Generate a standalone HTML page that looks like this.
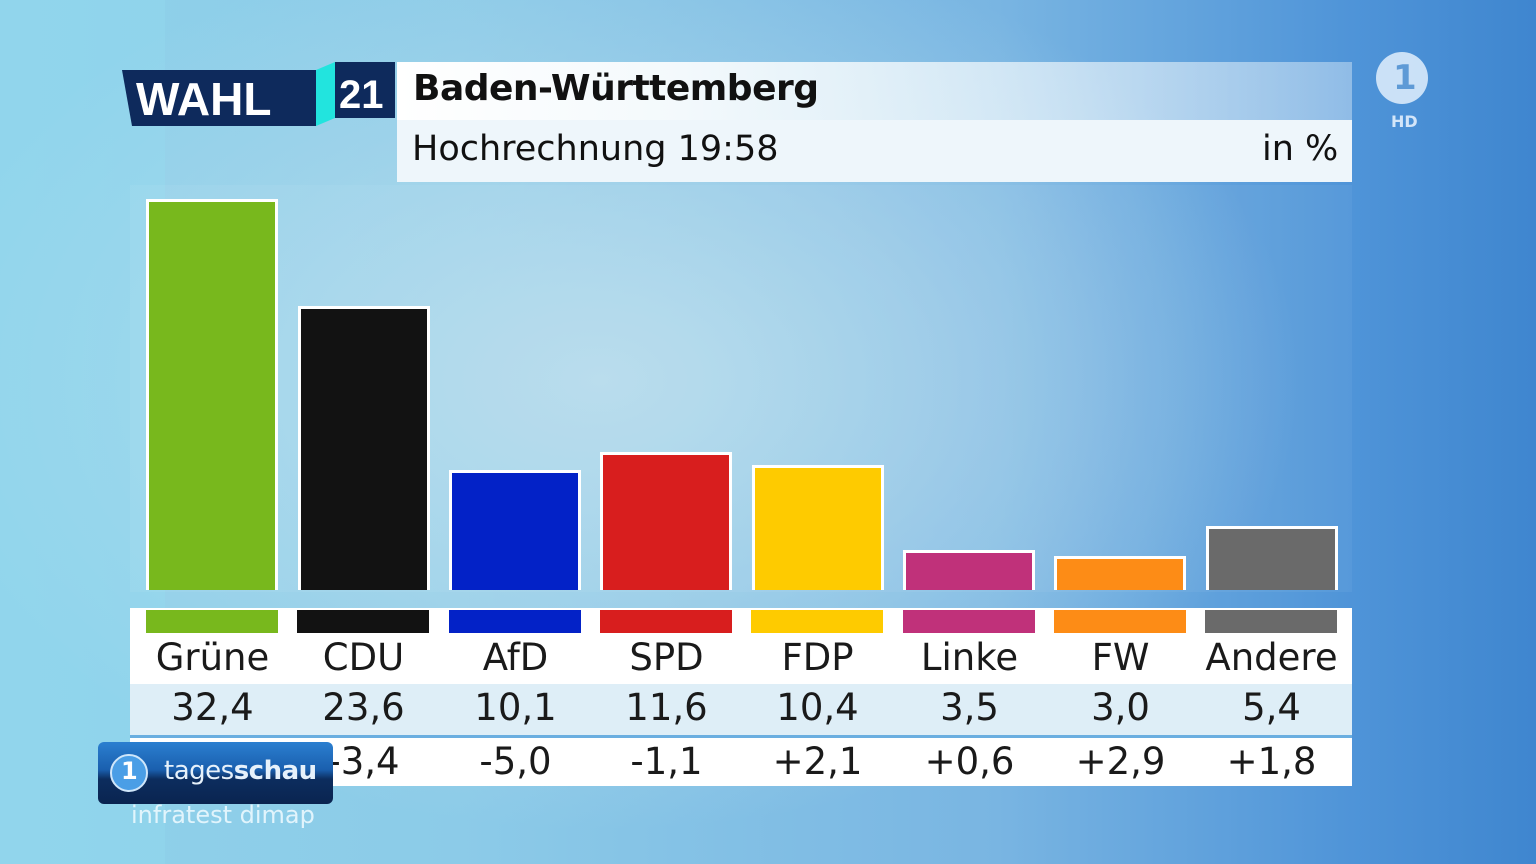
<!DOCTYPE html>
<html><head><meta charset="utf-8"><style>
body{margin:0;width:1536px;height:864px;overflow:hidden;position:relative;font-family:"DejaVu Sans","Liberation Sans",sans-serif;
background:radial-gradient(ellipse 700px 450px at 600px 380px,#b7dcec 0%,rgba(183,220,236,0) 100%),linear-gradient(90deg,#8fd2ea 0%,#8ccbe8 30%,#79b5e2 65%,#4f94d8 88%,#3f86cf 100%);}
.a{position:absolute}
.bar{position:absolute;width:126px;border:3px solid #fff;border-bottom:none;bottom:274px}
.strip{position:absolute;top:610px;height:23px;width:132px}
.t{position:absolute;width:151px;text-align:center;font-size:37px;color:#1a1a1a}
</style></head><body>
<div class="a" style="left:0;top:0;width:165px;height:864px;background:rgba(150,220,240,0.35)"></div>
<div class="a" style="left:130px;top:185px;width:1222px;height:407px;background:rgba(255,255,255,0.05)"></div>
<!-- header -->
<svg class="a" style="left:118px;top:58px" width="290" height="72">
<polygon points="4,12 198,12 198,68 14,68" fill="#0e2a5c"/>
<polygon points="198,12 217,4 217,60 198,68" fill="#22e4de"/>
<rect x="217" y="4" width="60" height="56" fill="#0e2a5c"/>
<text x="18" y="57" font-family="Liberation Sans,sans-serif" font-weight="bold" font-size="46" fill="#fff">WAHL</text>
<text x="221" y="50" font-family="Liberation Sans,sans-serif" font-weight="bold" font-size="40" fill="#fff">21</text>
</svg>
<div class="a" style="left:397px;top:62px;width:955px;height:58px;background:linear-gradient(90deg,#fff 0%,#f3f9fc 30%,rgba(240,248,252,0.4) 100%)"></div>
<div class="a" style="left:413px;top:68px;font-size:36px;font-weight:bold;color:#111;letter-spacing:-0.5px">Baden-Württemberg</div>
<div class="a" style="left:397px;top:120px;width:955px;height:62px;background:#eef6fb"></div>
<div class="a" style="left:412px;top:129px;font-size:35px;color:#111">Hochrechnung 19:58</div>
<div class="a" style="left:1262px;top:129px;font-size:35px;color:#111">in %</div>
<!-- ARD -->
<div class="a" style="left:1376px;top:52px;width:52px;height:52px;border-radius:50%;background:rgba(235,245,255,0.8)"></div>
<div class="a" style="left:1393px;top:58px;font-size:34px;font-weight:bold;color:#5e9ad6">1</div>
<div class="a" style="left:1391px;top:112px;font-size:16px;font-weight:bold;color:rgba(235,245,255,0.85)">HD</div>
<!-- bars -->
<div class="bar" style="left:146px;top:199px;background:#78b81d"></div>
<div class="bar" style="left:298px;top:306px;background:#121212"></div>
<div class="bar" style="left:449px;top:470px;background:#0322c7"></div>
<div class="bar" style="left:600px;top:452px;background:#d81e1e"></div>
<div class="bar" style="left:752px;top:465px;background:#fecb00"></div>
<div class="bar" style="left:903px;top:550px;background:#c0317a"></div>
<div class="bar" style="left:1054px;top:556px;background:#fd8c16"></div>
<div class="bar" style="left:1206px;top:526px;background:#6a6a6a"></div>
<!-- table -->
<div class="a" style="left:130px;top:608px;width:1222px;height:76px;background:#fff"></div>
<div class="a" style="left:130px;top:684px;width:1222px;height:51px;background:#deeef7"></div>
<div class="a" style="left:130px;top:735px;width:1222px;height:3px;background:#6aaee0"></div>
<div class="a" style="left:130px;top:738px;width:1222px;height:48px;background:#fff"></div>
<div class="strip" style="left:146px;background:#78b81d"></div>
<div class="strip" style="left:297px;background:#121212"></div>
<div class="strip" style="left:449px;background:#0322c7"></div>
<div class="strip" style="left:600px;background:#d81e1e"></div>
<div class="strip" style="left:751px;background:#fecb00"></div>
<div class="strip" style="left:903px;background:#c0317a"></div>
<div class="strip" style="left:1054px;background:#fd8c16"></div>
<div class="strip" style="left:1205px;background:#6a6a6a"></div>
<div class="t" style="left:137px;top:636px">Grüne</div><div class="t" style="left:288px;top:636px">CDU</div><div class="t" style="left:440px;top:636px">AfD</div><div class="t" style="left:591px;top:636px">SPD</div><div class="t" style="left:742px;top:636px">FDP</div><div class="t" style="left:894px;top:636px">Linke</div><div class="t" style="left:1045px;top:636px">FW</div><div class="t" style="left:1196px;top:636px">Andere</div>
<div class="t" style="left:137px;top:686px">32,4</div><div class="t" style="left:288px;top:686px">23,6</div><div class="t" style="left:440px;top:686px">10,1</div><div class="t" style="left:591px;top:686px">11,6</div><div class="t" style="left:742px;top:686px">10,4</div><div class="t" style="left:894px;top:686px">3,5</div><div class="t" style="left:1045px;top:686px">3,0</div><div class="t" style="left:1196px;top:686px">5,4</div>
<div class="t" style="left:137px;top:740px">+2,1</div><div class="t" style="left:288px;top:740px">-3,4</div><div class="t" style="left:440px;top:740px">-5,0</div><div class="t" style="left:591px;top:740px">-1,1</div><div class="t" style="left:742px;top:740px">+2,1</div><div class="t" style="left:894px;top:740px">+0,6</div><div class="t" style="left:1045px;top:740px">+2,9</div><div class="t" style="left:1196px;top:740px">+1,8</div>
<!-- tagesschau -->
<div class="a" style="left:98px;top:742px;width:235px;height:62px;border-radius:6px;background:linear-gradient(180deg,#2b7fd0 0%,#1a5fae 45%,#0c2d5e 60%,#0a2450 100%)"></div>
<div class="a" style="left:110px;top:754px;width:34px;height:34px;border-radius:50%;background:#4a9ee6;border:2px solid #cfe6fa"></div>
<div class="a" style="left:121px;top:757px;font-size:24px;font-weight:bold;color:#fff">1</div>
<div class="a" style="left:164px;top:756px;font-size:26px;color:#e6f1fb;letter-spacing:-0.5px">tages<b>schau</b></div>
<div class="a" style="left:131px;top:801px;font-size:24px;color:rgba(240,250,255,0.85)">infratest dimap</div>
</body></html>
